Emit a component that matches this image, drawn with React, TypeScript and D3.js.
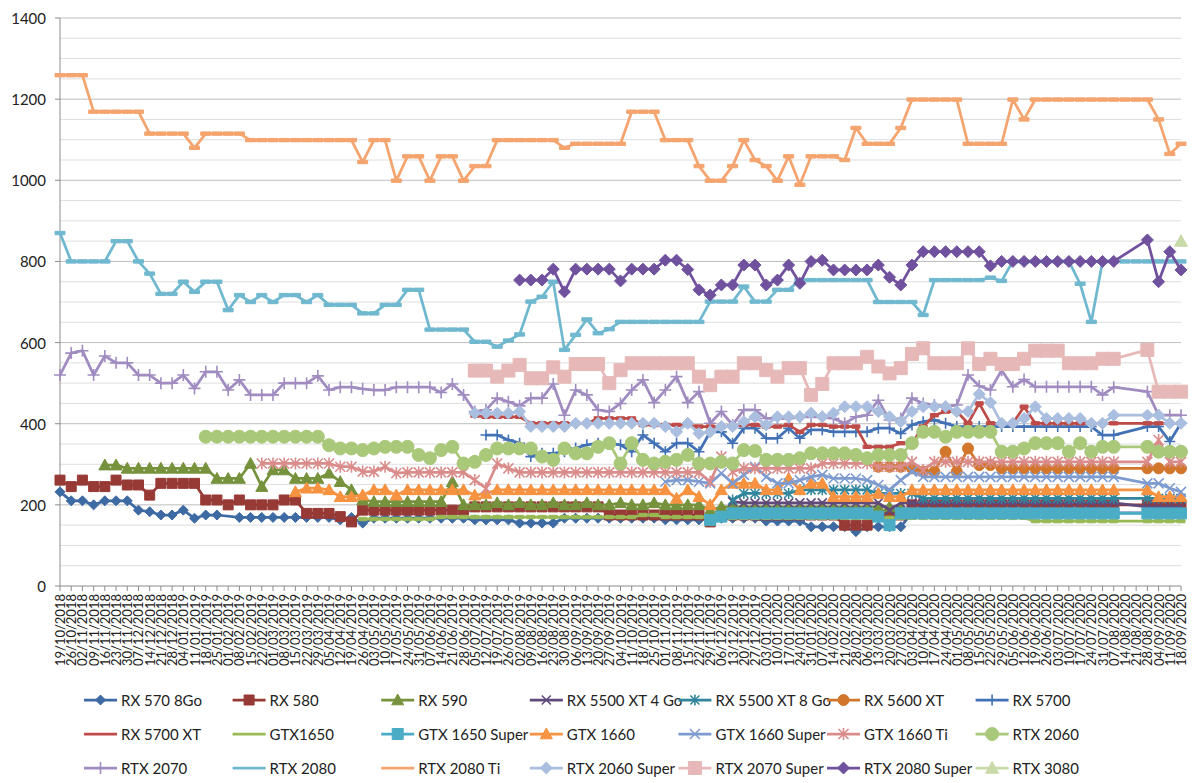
import React from "react";
import * as d3 from "d3";

const N = null;

const dates = [
  "19/10/2018","26/10/2018","02/11/2018","09/11/2018","16/11/2018","23/11/2018","30/11/2018","07/12/2018","14/12/2018","21/12/2018","28/12/2018",
  "04/01/2019","11/01/2019","18/01/2019","25/01/2019","01/02/2019","08/02/2019","15/02/2019","22/02/2019","01/03/2019","08/03/2019","15/03/2019","22/03/2019","29/03/2019",
  "05/04/2019","12/04/2019","19/04/2019","26/04/2019","03/05/2019","10/05/2019","17/05/2019","24/05/2019","31/05/2019","07/06/2019","14/06/2019","21/06/2019","28/06/2019",
  "05/07/2019","12/07/2019","19/07/2019","26/07/2019","02/08/2019","09/08/2019","16/08/2019","23/08/2019","30/08/2019","06/09/2019","13/09/2019","20/09/2019","27/09/2019",
  "04/10/2019","11/10/2019","18/10/2019","25/10/2019","01/11/2019","08/11/2019","15/11/2019","22/11/2019","29/11/2019","06/12/2019","13/12/2019","20/12/2019","27/12/2019",
  "03/01/2020","10/01/2020","17/01/2020","24/01/2020","31/01/2020","07/02/2020","14/02/2020","21/02/2020","28/02/2020","06/03/2020","13/03/2020","20/03/2020","27/03/2020",
  "03/04/2020","10/04/2020","17/04/2020","24/04/2020","01/05/2020","08/05/2020","15/05/2020","22/05/2020","29/05/2020","05/06/2020","12/06/2020","19/06/2020","26/06/2020",
  "03/07/2020","10/07/2020","17/07/2020","24/07/2020","31/07/2020","07/08/2020","14/08/2020","21/08/2020","28/08/2020","04/09/2020","11/09/2020","18/09/2020"
];

const yTicks = [0, 200, 400, 600, 800, 1000, 1200, 1400];

// Each series: values start at the given category index (start)
const RX570 = [
  232,210,210,200,210,210,210,187,183,175,
  175,187,167,175,175,N,169,169,169,169,
  169,169,169,169,169,163,169,155,167,167,
  167,167,167,167,167,167,167,163,163,163,
  163,155,155,155,155,167,167,167,167,167,
  167,167,167,167,163,163,163,163,167,167,
  167,167,167,160,160,160,160,146,146,146,
  146,134,146,146,146,146,180,180,180,180,
  180,180,180,180,180,180,180,180,180,180,
  180,180,180,180,180,N,N,180,180,180,
  180
];
const RX580 = [
  261,245,261,245,245,261,249,249,224,253,
  253,253,253,212,212,200,212,200,200,200,
  212,212,179,179,179,171,158,187,187,187,
  187,187,187,187,187,187,187,195,195,195,
  195,195,195,195,195,195,195,195,195,175,
  175,175,175,175,175,175,175,175,158,175,
  175,175,175,175,175,175,175,175,175,175,
  150,150,150,175,175,175,200,200,200,200,
  200,200,200,200,200,200,200,200,200,200,
  200,200,200,200,200,N,N,200,200,200,
  200
];
const RX590 = [ // from index 4
  298,298,290,290,290,290,
  290,290,290,290,265,265,265,302,245,286,
  286,265,265,265,278,257,237,212,208,208,
  208,208,208,208,208,257,200,200,200,205,
  200,205,200,200,205,200,200,205,200,200,
  205,200,200,205,200,200,200,200,187,195,
  195,195,195,195,195,195,195,195,195,195,
  195,195,195,195,195,195
];
const RX5500XT4 = [ // from index 60
  208,205,205,205,205,205,205,205,205,205,
  205,205,205,205,187,205,205,205,205,205,
  205,205,205,205,205,205,205,205,205,205,
  205,205,205,205,205,N,N,195,195,195,
  195
];
const RX5500XT8 = [ // from index 60
  212,228,228,228,228,228,237,237,237,237,
  237,237,237,228,228,228,228,216,216,216,
  216,216,216,216,216,216,216,216,216,216,
  216,216,216,216,216,N,N,216,216,216,
  216
];
const RX5600XT = [ // from index 73
  294,294,294,290,282,282,331,
  282,339,298,298,290,290,290,290,290,290,
  290,290,290,290,290,N,N,290,290,290,
  290
];
const RX5700 = [ // from index 38
  372,372,
  360,352,319,327,327,331,340,348,352,352,
  348,331,372,352,331,352,352,331,380,380,
  352,389,389,364,364,389,364,385,385,380,
  380,380,380,389,389,376,397,405,409,401,
  393,393,393,393,393,393,393,393,393,393,
  393,393,393,372,372,N,N,393,393,356,
  401
];
const RX5700XT = [ // from index 37
  420,417,417,
  417,417,401,401,401,401,401,401,413,413,
  413,413,397,397,397,397,397,393,393,393,
  393,397,397,393,393,397,380,397,397,393,
  393,393,343,343,343,352,352,393,421,430,
  430,401,450,401,401,401,442,401,401,401,
  401,401,401,401,401,N,N,401,401,401,
  401
];
const GTX1650 = [ // from index 27
  165,165,165,
  165,165,165,165,170,170,170,170,170,170,
  170,170,170,170,170,170,170,170,170,170,
  170,170,175,175,170,170,170,170,170,170,
  168,168,168,168,168,168,168,168,168,168,
  168,168,168,168,168,168,168,168,168,168,
  168,168,168,168,168,168,168,160,160,160,
  160,160,160,160,160,N,N,160,160,160,
  160
];
const GTX1650S = [ // from index 58
  163,171,
  179,179,179,179,179,179,179,179,179,179,
  179,179,179,171,150,179,179,179,179,179,
  179,179,179,179,179,179,179,179,179,179,
  179,179,179,179,179,N,N,179,179,179,
  179
];
const GTX1660 = [ // from index 21
  232,241,241,237,220,220,224,237,237,
  224,237,237,237,237,237,237,224,228,237,
  237,237,237,237,237,237,237,237,237,237,
  237,237,237,237,237,216,237,220,200,237,
  253,253,253,237,237,265,237,253,253,220,
  220,220,220,228,220,220,237,237,237,237,
  237,237,237,237,237,237,237,237,237,237,
  237,237,237,237,237,N,N,237,220,220,
  220
];
const GTX1660S = [ // from index 54
  257,261,261,257,253,278,
  253,274,294,269,253,253,261,269,274,265,
  265,265,261,249,237,261,282,269,269,269,
  269,269,269,269,269,269,269,269,269,269,
  269,269,269,269,269,N,N,253,253,241,
  232
];
const GTX1660Ti = [ // from index 18
  302,302,
  302,302,302,302,302,294,294,282,282,294,
  278,280,280,280,280,280,280,261,241,302,
  290,280,280,280,280,280,280,280,280,280,
  280,280,280,280,280,280,280,280,257,319,
  282,290,290,290,290,290,290,290,302,302,
  302,302,302,294,294,294,306,286,306,306,
  306,306,306,306,306,306,306,306,306,306,
  306,306,306,306,306,N,N,306,360,306,
  306
];
const RTX2060 = [ // from index 13
  368,368,368,368,368,368,368,
  368,368,368,368,347,339,339,335,339,343,
  343,343,323,315,335,343,302,306,323,339,
  339,339,339,319,311,339,327,327,343,352,
  302,352,311,302,306,311,323,302,302,306,
  302,335,333,311,311,311,315,327,327,327,
  327,323,315,323,323,323,352,380,380,368,
  380,380,380,380,331,331,339,352,352,352,
  331,352,331,343,343,N,N,343,331,331,
  331
];
const RTX2070 = [
  520,574,580,520,567,550,550,520,520,500,
  500,520,487,528,528,483,508,471,471,471,
  500,500,500,518,483,490,490,486,483,483,
  490,490,490,490,477,498,471,430,434,463,
  454,444,463,463,498,421,483,471,434,430,
  450,483,508,452,483,516,452,479,401,430,
  397,434,434,413,413,413,417,417,417,413,
  401,417,421,458,409,413,463,450,446,442,
  446,520,493,483,532,491,509,491,491,491,
  491,491,491,471,490,N,N,479,421,421,
  421
];
const RTX2080 = [
  870,800,800,800,800,850,850,800,770,720,
  720,750,725,750,750,680,717,700,717,700,
  717,717,700,717,693,693,693,672,672,693,
  693,730,730,632,632,632,632,602,602,590,
  605,620,701,713,750,582,619,657,623,633,
  651,651,651,651,651,651,651,651,701,701,
  701,738,701,701,730,730,754,754,754,754,
  754,754,754,700,700,700,700,668,754,754,
  754,754,754,760,752,800,800,800,800,800,
  800,745,651,800,800,800,800,800,800,800,
  800
];
const RTX2080Ti = [
  1259,1259,1259,1169,1169,1169,1169,1169,1115,1115,
  1115,1115,1080,1115,1115,1115,1115,1099,1099,1099,
  1099,1099,1099,1099,1099,1099,1099,1045,1099,1099,
  999,1059,1059,999,1059,1059,999,1035,1035,1099,
  1099,1099,1099,1099,1099,1080,1090,1090,1090,1090,
  1090,1169,1169,1169,1099,1099,1099,1035,999,999,
  1035,1099,1050,1035,999,1059,989,1059,1059,1059,
  1050,1129,1090,1090,1090,1129,1199,1199,1199,1199,
  1199,1090,1090,1090,1090,1199,1150,1199,1199,1199,
  1199,1199,1199,1199,1199,1199,1199,1199,1150,1065,
  1090
];
const RTX2060S = [ // from index 37
  426,426,426,
  426,430,393,393,393,393,401,401,401,401,
  401,401,401,401,393,380,401,376,380,393,
  393,405,417,397,417,417,417,426,417,426,
  442,442,442,430,417,405,430,442,442,442,
  430,430,473,452,401,401,413,442,413,413,
  413,413,401,401,421,N,N,421,421,401,
  401
];
const RTX2070S = [ // from index 37
  531,531,516,
  531,545,512,512,539,516,547,547,547,500,
  532,549,549,549,549,549,549,516,495,516,
  516,549,549,532,516,537,537,471,498,549,
  549,549,565,541,524,537,572,586,549,549,
  549,586,547,560,547,547,560,580,580,580,
  549,549,549,560,560,N,N,582,479,479,
  479
];
const RTX2080S = [ // from index 41
  754,754,754,781,725,781,781,781,781,
  752,781,781,781,803,803,780,730,717,742,
  742,791,791,742,754,791,746,800,803,779,
  779,779,779,791,761,742,791,824,824,824,
  824,824,824,789,800,800,800,800,800,800,
  800,800,800,800,800,N,N,853,750,824,
  779
];
const RTX3080 = [850]; // from index 100

type Marker = "diamond" | "square" | "triangle" | "x" | "star" | "circle" | "plus" | "dash";

interface Series {
  name: string;
  values: (number | null)[];
  start: number;
  color: string;
  marker: Marker;
  r: number;
}

const series: Series[] = [
  { name: "RX 570 8Go", values: RX570, start: 0, color: "#3D6AA3", marker: "diamond", r: 5 },
  { name: "RX 580", values: RX580, start: 0, color: "#973935", marker: "square", r: 5 },
  { name: "RX 590", values: RX590, start: 4, color: "#76923C", marker: "triangle", r: 6 },
  { name: "RX 5500 XT 4 Go", values: RX5500XT4, start: 60, color: "#5F4A7B", marker: "x", r: 4.5 },
  { name: "RX 5500 XT 8 Go", values: RX5500XT8, start: 60, color: "#31859C", marker: "star", r: 4.5 },
  { name: "RX 5600 XT", values: RX5600XT, start: 73, color: "#D2762C", marker: "circle", r: 5.5 },
  { name: "RX 5700", values: RX5700, start: 38, color: "#4272B5", marker: "plus", r: 5.5 },
  { name: "RX 5700 XT", values: RX5700XT, start: 37, color: "#BE4B48", marker: "dash", r: 4 },
  { name: "GTX1650", values: GTX1650, start: 27, color: "#98B954", marker: "dash", r: 4 },
  { name: "GTX 1650 Super", values: GTX1650S, start: 58, color: "#4BACC6", marker: "square", r: 5.5 },
  { name: "GTX 1660", values: GTX1660, start: 21, color: "#F69240", marker: "triangle", r: 6 },
  { name: "GTX 1660 Super", values: GTX1660S, start: 54, color: "#7E9BCF", marker: "x", r: 5 },
  { name: "GTX 1660 Ti", values: GTX1660Ti, start: 18, color: "#D98C8A", marker: "star", r: 5 },
  { name: "RTX 2060", values: RTX2060, start: 13, color: "#A9C879", marker: "circle", r: 6.5 },
  { name: "RTX 2070", values: RTX2070, start: 0, color: "#A08CC0", marker: "plus", r: 6 },
  { name: "RTX 2080", values: RTX2080, start: 0, color: "#70B8CF", marker: "dash", r: 5 },
  { name: "RTX 2080 Ti", values: RTX2080Ti, start: 0, color: "#F4A46E", marker: "dash", r: 5 },
  { name: "RTX 2060 Super", values: RTX2060S, start: 37, color: "#AABEDF", marker: "diamond", r: 6 },
  { name: "RTX 2070 Super", values: RTX2070S, start: 37, color: "#E6B9B8", marker: "square", r: 6.5 },
  { name: "RTX 2080 Super", values: RTX2080S, start: 41, color: "#70519E", marker: "diamond", r: 6 },
  { name: "RTX 3080", values: RTX3080, start: 100, color: "#C9DAA9", marker: "triangle", r: 6.5 },
];

function markerPath(m: Marker, r: number): string {
  switch (m) {
    case "diamond":
      return `M0,${-r}L${r},0L0,${r}L${-r},0Z`;
    case "square":
      return `M${-r},${-r}H${r}V${r}H${-r}Z`;
    case "triangle":
      return `M0,${-r}L${r},${r * 0.8}L${-r},${r * 0.8}Z`;
    case "x":
      return `M${-r},${-r}L${r},${r}M${-r},${r}L${r},${-r}`;
    case "star":
      return `M${-r},${-r}L${r},${r}M${-r},${r}L${r},${-r}M0,${-r * 1.2}L0,${r * 1.2}`;
    case "plus":
      return `M${-r},0H${r}M0,${-r}V${r}`;
    case "dash":
      return `M${-r},-1.7H${r}V1.7H${-r}Z`;
    case "circle":
      return d3.symbol(d3.symbolCircle, Math.PI * r * r)() || "";
  }
}

const filled = (m: Marker) => m !== "x" && m !== "star" && m !== "plus";

function MarkerShape({ m, r, color, x, y }: { m: Marker; r: number; color: string; x: number; y: number }) {
  const f = filled(m);
  return (
    <path
      d={markerPath(m, r)}
      transform={`translate(${x},${y})`}
      fill={f ? color : "none"}
      stroke={color}
      strokeWidth={f ? 1 : 1.6}
    />
  );
}

export default function App() {
  const W = 1200;
  const H = 783;
  const left = 60;
  const right = 1181;
  const top = 18;
  const bottom = 586;

  const x = d3.scalePoint<string>().domain(dates).range([left, right]);
  const y = d3.scaleLinear().domain([0, 1400]).range([bottom, top]);

  const gridVals = d3.range(50, 1401, 50);
  const font = "Lato, 'Open Sans', 'DejaVu Sans', sans-serif";

  const line = d3
    .line<[number, number]>()
    .x((d) => d[0])
    .y((d) => d[1])
    .curve(d3.curveLinear);

  const pts = (s: Series): [number, number][] =>
    s.values
      .map((v, k) => {
        const d = dates[s.start + k];
        if (v === null || d === undefined) return null;
        return [x(d) as number, y(v)] as [number, number];
      })
      .filter((p): p is [number, number] => p !== null);

  const legendCols = 7;
  const legendTextX0 = 121;
  const legendColW = 148.6;
  const legendRows = [700, 734, 768];

  return (
    <svg
      width={W}
      height={H}
      style={{ position: "absolute", left: 0, top: 0, background: "#fff" }}
      fontFamily={font}
    >
      <rect x={0} y={0} width={W} height={H} fill="#fff" />
      {/* gridlines */}
      {gridVals.map((v) => (
        <line
          key={"g" + v}
          x1={left}
          x2={right}
          y1={y(v)}
          y2={y(v)}
          stroke={v % 200 === 0 ? "#BDBDBD" : "#DEDEDE"}
          strokeWidth={1}
        />
      ))}
      {/* y axis */}
      <line x1={left} x2={left} y1={top} y2={bottom} stroke="#8C8C8C" strokeWidth={1} />
      {yTicks.map((v) => (
        <g key={"yt" + v}>
          <line x1={left - 5} x2={left} y1={y(v)} y2={y(v)} stroke="#8C8C8C" />
          <text
            x={46}
            y={y(v)}
            textAnchor="end"
            dominantBaseline="central"
            fontSize={15}
            fill="#222"
          >
            {v}
          </text>
        </g>
      ))}
      {/* x axis */}
      <line x1={left} x2={right} y1={bottom} y2={bottom} stroke="#8C8C8C" strokeWidth={1} />
      {dates.map((d) => (
        <g key={"xt" + d}>
          <line x1={x(d)} x2={x(d)} y1={bottom} y2={bottom + 5} stroke="#8C8C8C" />
          <text
            transform={`translate(${x(d)},${bottom + 8}) rotate(-90)`}
            textAnchor="end"
            dominantBaseline="central"
            fontSize={13}
            fill="#222"
          >
            {d}
          </text>
        </g>
      ))}
      {/* series */}
      {series.map((s) => {
        const p = pts(s);
        return (
          <g key={s.name}>
            {p.length > 1 && (
              <path
                d={line(p) || ""}
                fill="none"
                stroke={s.color}
                strokeWidth={2.75}
                strokeLinejoin="round"
                strokeLinecap="round"
              />
            )}
            {p.map((q, k) => (
              <MarkerShape key={k} m={s.marker} r={s.r} color={s.color} x={q[0]} y={q[1]} />
            ))}
          </g>
        );
      })}
      {/* legend */}
      {series.map((s, k) => {
        const row = Math.floor(k / legendCols);
        const col = k % legendCols;
        const tx = legendTextX0 + col * legendColW;
        const ly = legendRows[row];
        const lx1 = tx - 37;
        const lx2 = tx - 4;
        return (
          <g key={"lg" + s.name}>
            <line x1={lx1} x2={lx2} y1={ly} y2={ly} stroke={s.color} strokeWidth={2.75} />
            {s.marker !== "dash" && (
              <MarkerShape m={s.marker} r={s.r} color={s.color} x={(lx1 + lx2) / 2} y={ly} />
            )}
            <text x={tx} y={ly} dominantBaseline="central" fontSize={15} fill="#222">
              {s.name}
            </text>
          </g>
        );
      })}
    </svg>
  );
}
